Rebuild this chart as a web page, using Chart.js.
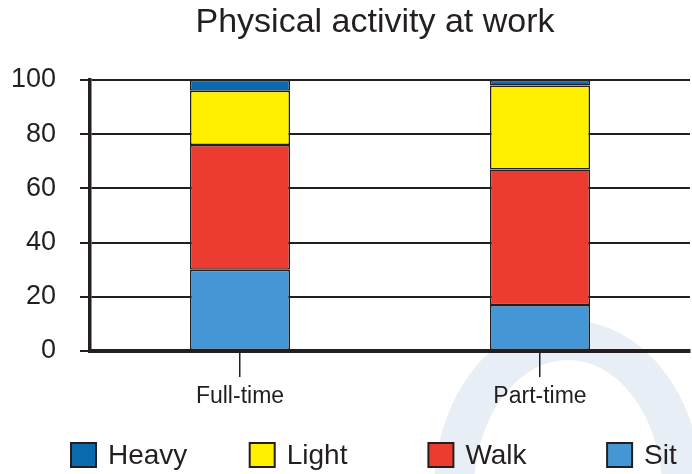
<!DOCTYPE html>
<html>
<head>
<meta charset="utf-8">
<script src="https://cdn.jsdelivr.net/npm/chart.js@4"></script>
<style>
  html, body { margin: 0; padding: 0; background: #fff; }
  #wrap { width: 692px; height: 474px; }
</style>
</head>
<body>
<div id="wrap"><canvas id="activityChart" width="692" height="474"></canvas></div>
<script>
const categories = ["Full-time", "Part-time"];
const sitValues = [30, 17];
const walkValues = [46, 50];
const lightValues = [20, 31];
const heavyValues = [4, 2];
const yTicks = [0, 20, 40, 60, 80, 100];

const FONT = "'Liberation Sans', Arial, Helvetica, sans-serif";
const INK = "#231f20";

// faint arch in the lower right, behind everything
const watermark = {
  id: "watermark",
  beforeDraw(chart) {
    const ctx = chart.ctx;
    ctx.save();
    ctx.strokeStyle = "#e8eef6";
    ctx.lineWidth = 40;
    ctx.beginPath();
    ctx.ellipse(568, 490, 114, 150, 0, Math.PI, 2 * Math.PI);
    ctx.stroke();
    ctx.restore();
  }
};

// title + evenly spaced legend
const decorations = {
  id: "decorations",
  afterDraw(chart) {
    const ctx = chart.ctx;
    ctx.save();
    ctx.fillStyle = INK;
    ctx.font = "34px " + FONT;
    ctx.textAlign = "center";
    ctx.textBaseline = "middle";
    ctx.fillText("Physical activity at work", 375, 23);

    const items = chart.data.datasets.slice().reverse();
    ctx.font = "28px " + FONT;
    ctx.textAlign = "left";
    items.forEach((ds, i) => {
      const x = 71 + i * 178.7;
      ctx.fillStyle = ds.backgroundColor;
      ctx.fillRect(x, 443, 25, 24);
      ctx.lineWidth = 2;
      ctx.strokeStyle = INK;
      ctx.strokeRect(x, 443, 25, 24);
      ctx.fillStyle = INK;
      ctx.fillText(ds.label, x + 37, 456);
    });
    ctx.restore();
  }
};

const common = { borderColor: INK, borderWidth: 1.5, borderSkipped: false };

new Chart(document.getElementById("activityChart"), {
  type: "bar",
  data: {
    labels: categories,
    datasets: [
      { label: "Sit", data: sitValues, backgroundColor: "#4596d4", ...common },
      { label: "Walk", data: walkValues, backgroundColor: "#ec3c30", ...common },
      { label: "Light", data: lightValues, backgroundColor: "#fff000", ...common },
      { label: "Heavy", data: heavyValues, backgroundColor: "#0a6aad", ...common }
    ]
  },
  options: {
    responsive: false,
    animation: false,
    events: [],
    layout: { padding: { top: 80, right: 2, left: 0, bottom: 0 } },
    datasets: { bar: { barPercentage: 1, categoryPercentage: 1 / 3 } },
    plugins: {
      legend: { display: false },
      title: { display: false },
      tooltip: { enabled: false }
    },
    scales: {
      x: {
        stacked: true,
        afterFit: s => { s.height = 123; },
        grid: { offset: false, drawOnChartArea: false, drawTicks: true, tickLength: 26, color: INK, lineWidth: 1.5 },
        border: { display: true, color: INK, width: 4 },
        ticks: { color: INK, font: { family: FONT, size: 23 }, padding: 6 }
      },
      y: {
        stacked: true,
        min: 0,
        max: 100,
        afterFit: s => { s.width = 90; },
        afterBuildTicks: s => { s.ticks = yTicks.map(v => ({ value: v })); },
        grid: { color: INK, lineWidth: 2, tickLength: 10, drawTicks: true },
        border: { display: true, color: INK, width: 3.5 },
        ticks: { color: INK, font: { family: FONT, size: 27 }, padding: 24 }
      }
    }
  },
  plugins: [watermark, decorations]
});
</script>
</body>
</html>
